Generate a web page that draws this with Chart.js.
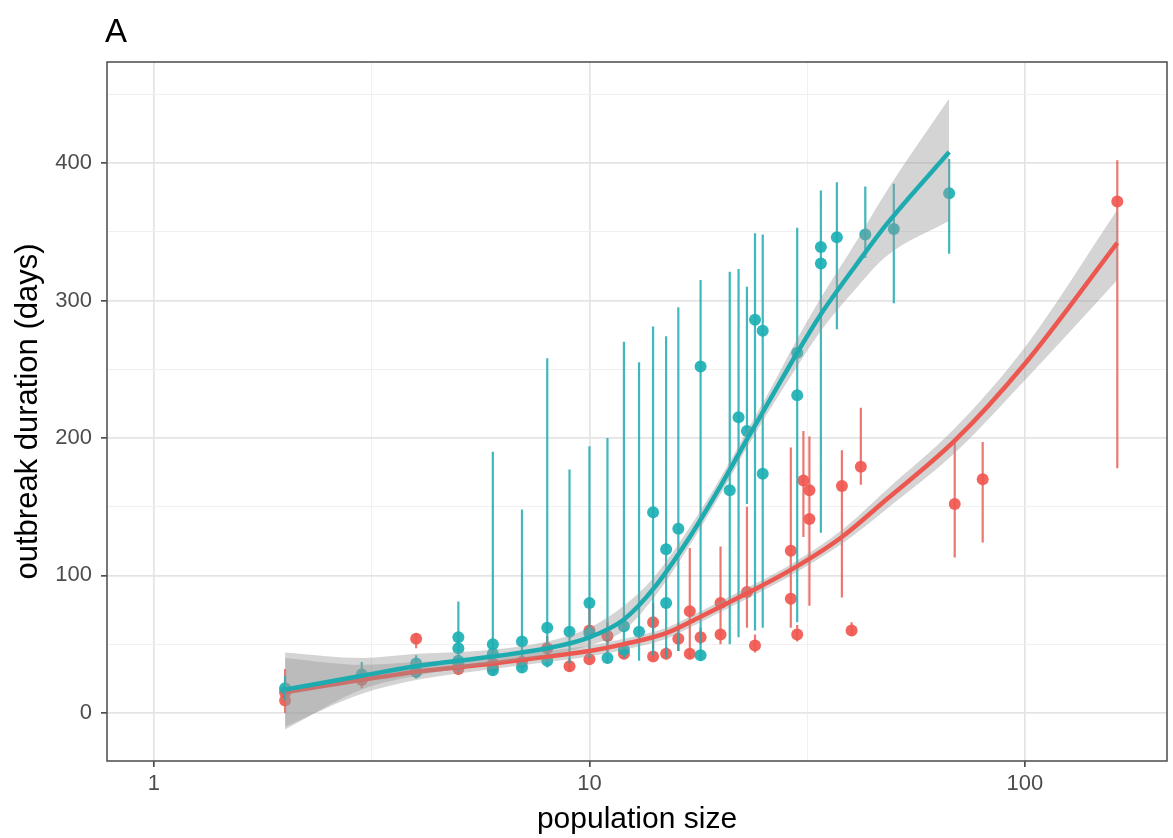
<!DOCTYPE html>
<html>
<head>
<meta charset="utf-8">
<script src="https://cdn.jsdelivr.net/npm/chart.js@4.4.1/dist/chart.umd.min.js"></script>
<style>
  html, body { margin: 0; padding: 0; background: #fff; }
  canvas { display: block; }
</style>
</head>
<body>
<canvas id="durationChart" width="1173" height="838"></canvas>
<script>
// observed outbreaks, group 1 (red): population size, duration, interval
const redX  = [2, 2, 3, 4, 4, 5, 5, 6, 6, 7, 8, 9, 10, 10, 11, 12, 14, 14, 15, 16, 17, 17, 18, 20, 20, 23, 24, 29, 29, 30, 31, 32, 32, 38, 40, 42, 69, 80, 163];
const redY  = [15, 9, 24, 54, 30, 32, 36, 36, 33, 37, 47, 34, 60, 39, 56, 43, 66, 41, 43, 54, 74, 43, 55, 80, 57, 88, 49, 118, 83, 57, 169, 162, 141, 165, 60, 179, 152, 170, 372];
const redLo = [2, 0, 18, 47, 26, 28, 31, 31, 29, 32, 40, 30, 42, 35, 44, 39, 46, 38, 39, 45, 45, 39, 50, 50, 52, 62, 44, 68, 62, 52, 128, 78, 98, 84, 56, 166, 113, 124, 178];
const redHi = [32, 22, 31, 58, 35, 37, 42, 41, 38, 44, 56, 40, 80, 45, 66, 48, 80, 45, 48, 65, 120, 47, 62, 121, 63, 150, 57, 193, 112, 64, 205, 201, 172, 191, 66, 222, 197, 197, 402];

// group 2 (teal)
const tealX  = [2, 3, 4, 4, 5, 5, 5, 6, 6, 6, 7, 7, 8, 8, 9, 10, 10, 11, 12, 12, 13, 14, 15, 15, 16, 18, 18, 21, 22, 23, 24, 25, 25, 30, 30, 34, 34, 37, 43, 50, 67];
const tealY  = [18, 28, 36, 30, 55, 47, 38, 50, 43, 31, 52, 33, 62, 38, 59, 80, 58, 40, 63, 46, 59, 146, 119, 80, 134, 252, 42, 162, 215, 205, 286, 278, 174, 262, 231, 339, 327, 346, 348, 352, 378];
const tealLo = [9, 22, 28, 25, 30, 33, 31, 28, 31, 27, 31, 29, 35, 33, 36, 42, 40, 36, 42, 40, 38, 42, 40, 45, 45, 45, 38, 50, 55, 152, 60, 75, 62, 82, 66, 131, 131, 279, 331, 298, 334];
const tealHi = [27, 37, 42, 38, 81, 60, 45, 190, 55, 40, 148, 40, 258, 45, 177, 194, 70, 200, 270, 55, 255, 281, 274, 120, 295, 315, 50, 321, 323, 310, 349, 348, 250, 353, 340, 380, 370, 386, 383, 385, 403];

// smoothed fits with confidence band
const redFitX  = [2, 3, 4, 6, 8, 10, 12, 15, 18, 23, 29, 38, 48, 69, 100, 163];
const redFitY  = [15, 24, 30, 36, 41, 45, 50, 58, 70, 87, 104, 128, 155, 198, 254, 342];
const redFitLo = [-10, 14, 24, 32, 37, 41, 46, 54, 66, 83, 100, 123, 148, 189, 242, 315];
const redFitHi = [40, 35, 37, 40, 45, 49, 54, 62, 74, 91, 108, 133, 162, 207, 266, 366];

const tealFitX  = [2, 3, 4, 6, 8, 10, 12, 14, 17, 20, 23, 26, 30, 34, 41, 48, 67];
const tealFitY  = [17, 27, 34, 41, 47, 55, 68, 90, 128, 165, 199, 228, 262, 290, 326, 355, 408];
const tealFitLo = [-12, 17, 27, 36, 42, 49, 60, 83, 122, 159, 193, 221, 252, 278, 309, 332, 358];
const tealFitHi = [44, 40, 43, 46, 52, 62, 78, 98, 135, 171, 205, 235, 272, 302, 343, 379, 447];

const xMajorTicks = [1, 10, 100];
const xMinorTicks = [3.162, 31.62];
const yMajorTicks = [0, 100, 200, 300, 400];
const yMinorTicks = [50, 150, 250, 350, 450];

const RED = "#ec574f";
const TEAL = "#1eabb0";
const BAND = "rgba(153, 153, 153, 0.42)";
const FONT = "'Liberation Sans', Arial, sans-serif";

function toPoints(xs, ys) {
    return xs.map((x, i) => ({ x: x, y: ys[i] }));
}

function toBars(xs, lo, hi) {
    const out = [];
    xs.forEach((x, i) => {
        out.push({ x: x, y: lo[i] }, { x: x, y: hi[i] }, { x: x, y: null });
    });
    return out;
}

function barSet(xs, lo, hi, color, order) {
    return {
        type: "line",
        data: toBars(xs, lo, hi),
        borderColor: color,
        borderWidth: 2.2,
        pointRadius: 0,
        spanGaps: false,
        fill: false,
        order: order
    };
}

function pointSet(xs, ys, color, order) {
    return {
        type: "scatter",
        data: toPoints(xs, ys),
        backgroundColor: color,
        borderColor: color,
        borderWidth: 0,
        pointRadius: 6,
        showLine: false,
        order: order
    };
}

function curveSet(xs, ys, extra) {
    return Object.assign({
        type: "line",
        data: toPoints(xs, ys),
        pointRadius: 0,
        cubicInterpolationMode: "monotone",
        fill: false
    }, extra);
}

const isMajor = (v, majors) => majors.some(m => Math.abs(m - v) < 1e-6);

const panelFrame = {
    id: "panelFrame",
    afterDraw(chart) {
        const { ctx, chartArea: a } = chart;
        ctx.save();
        ctx.strokeStyle = "#555555";
        ctx.lineWidth = 1.6;
        ctx.strokeRect(a.left, a.top, a.right - a.left, a.bottom - a.top);
        ctx.fillStyle = "#000";
        ctx.font = "33px " + FONT;
        ctx.textBaseline = "alphabetic";
        ctx.fillText("A", a.left - 2, a.top - 20);
        ctx.restore();
    }
};

new Chart(document.getElementById("durationChart"), {
    type: "scatter",
    data: {
        datasets: [
            barSet(redX, redLo, redHi, "rgba(232, 96, 88, 0.85)", 20),
            pointSet(redX, redY, "rgba(240, 88, 80, 0.92)", 19),
            barSet(tealX, tealLo, tealHi, "rgba(31, 170, 176, 0.85)", 18),
            pointSet(tealX, tealY, "rgba(28, 176, 181, 0.92)", 17),
            curveSet(redFitX, redFitLo, { borderWidth: 0, order: 16 }),
            curveSet(redFitX, redFitHi, { borderWidth: 0, fill: "-1", backgroundColor: BAND, order: 16 }),
            curveSet(redFitX, redFitY, { borderColor: RED, borderWidth: 4.5, order: 15 }),
            curveSet(tealFitX, tealFitLo, { borderWidth: 0, order: 14 }),
            curveSet(tealFitX, tealFitHi, { borderWidth: 0, fill: "-1", backgroundColor: BAND, order: 14 }),
            curveSet(tealFitX, tealFitY, { borderColor: TEAL, borderWidth: 4.5, order: 13 })
        ]
    },
    options: {
        responsive: false,
        animation: false,
        events: [],
        devicePixelRatio: 1,
        layout: { padding: { left: 0, right: -3, top: 62, bottom: 0 } },
        plugins: {
            legend: { display: false },
            tooltip: { enabled: false }
        },
        scales: {
            x: {
                type: "logarithmic",
                min: 0.78,
                max: 212,
                afterBuildTicks: s => {
                    s.ticks = xMajorTicks.concat(xMinorTicks).sort((a, b) => a - b).map(v => ({ value: v }));
                },
                afterFit: s => {
                    s.height = 77;
                    s.paddingLeft = 0;
                    s.paddingRight = 0;
                },
                border: { display: false },
                grid: {
                    color: c => (c.tick && isMajor(c.tick.value, xMajorTicks)) ? "#e4e4e4" : "#f0f0f0",
                    lineWidth: c => (c.tick && isMajor(c.tick.value, xMajorTicks)) ? 1.7 : 1,
                    tickColor: c => (c.tick && isMajor(c.tick.value, xMajorTicks)) ? "#444" : "rgba(0,0,0,0)",
                    tickWidth: 1.6,
                    tickLength: 6
                },
                ticks: {
                    autoSkip: false,
                    maxRotation: 0,
                    padding: 4,
                    color: "#4d4d4d",
                    font: { family: FONT, size: 22 },
                    callback: v => isMajor(v, xMajorTicks) ? String(v) : ""
                },
                title: {
                    display: true,
                    text: "population size",
                    color: "#000",
                    font: { family: FONT, size: 30 },
                    padding: { top: 0, bottom: 0 }
                }
            },
            y: {
                min: -35,
                max: 473.5,
                afterBuildTicks: s => {
                    s.ticks = yMajorTicks.concat(yMinorTicks).sort((a, b) => a - b).map(v => ({ value: v }));
                },
                afterFit: s => {
                    s.width = 107;
                    s.paddingTop = 0;
                    s.paddingBottom = 0;
                },
                border: { display: false },
                grid: {
                    color: c => (c.tick && isMajor(c.tick.value, yMajorTicks)) ? "#e4e4e4" : "#f0f0f0",
                    lineWidth: c => (c.tick && isMajor(c.tick.value, yMajorTicks)) ? 1.7 : 1,
                    tickColor: c => (c.tick && isMajor(c.tick.value, yMajorTicks)) ? "#444" : "rgba(0,0,0,0)",
                    tickWidth: 1.6,
                    tickLength: 6
                },
                ticks: {
                    autoSkip: false,
                    padding: 9,
                    color: "#4d4d4d",
                    font: { family: FONT, size: 22 },
                    callback: v => isMajor(v, yMajorTicks) ? String(v) : ""
                },
                title: {
                    display: true,
                    text: "outbreak duration (days)",
                    color: "#000",
                    font: { family: FONT, size: 31 },
                    padding: { top: 10, bottom: 0 }
                }
            }
        }
    },
    plugins: [panelFrame]
});
</script>
</body>
</html>
